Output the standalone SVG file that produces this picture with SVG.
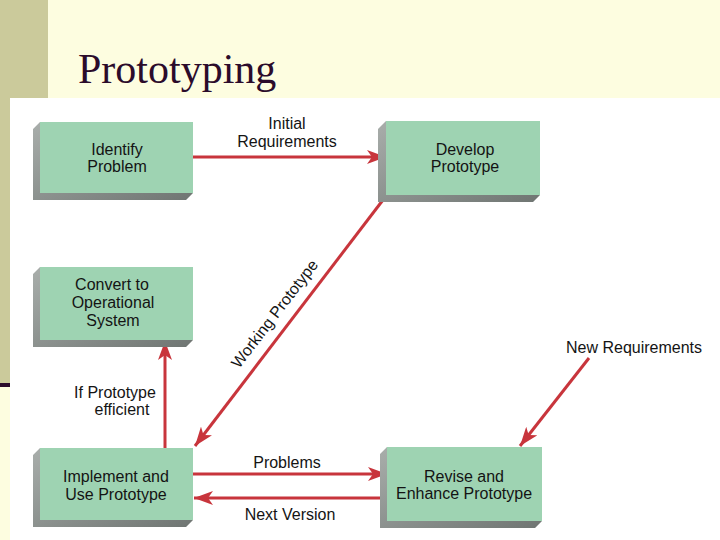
<svg xmlns="http://www.w3.org/2000/svg" width="720" height="540" viewBox="0 0 720 540">
<defs>
<linearGradient id="sh" x1="0" y1="0" x2="1" y2="1">
<stop offset="0" stop-color="#a9aeab"/>
<stop offset="1" stop-color="#6f7572"/>
</linearGradient>
<marker id="ah" markerUnits="userSpaceOnUse" markerWidth="20" markerHeight="14" viewBox="0 0 20 14" refX="19" refY="7" orient="auto">
<path d="M0,0 L19,7 L0,14 L5,7 z" fill="#c8353c"/>
</marker>
</defs>
<style>
.box{fill:#9ed3b2;}
.shadow{fill:url(#sh);}
.t{font-family:"Liberation Sans",Arial,sans-serif;font-size:16px;fill:#141414;text-anchor:middle;}
.c{stroke:#c8353c;stroke-width:3;fill:none;marker-end:url(#ah);}
</style>
<rect width="720" height="540" fill="#fdfde0"/>
<rect x="0" y="0" width="48" height="383" fill="#cbca9b"/>
<rect x="0" y="383" width="12" height="4" fill="#2b0b2b"/>
<text x="78" y="83" font-family="'Liberation Serif','Times New Roman',serif" font-size="42" fill="#2b0b2b">Prototyping</text>
<rect x="10" y="98" width="710" height="442" fill="#ffffff"/>

<g id="connectors">
<line class="c" x1="193" y1="157" x2="386" y2="157"/>
<line class="c" x1="386" y1="196" x2="195" y2="446"/>
<line class="c" x1="165" y1="448" x2="165" y2="341"/>
<line class="c" x1="193" y1="474" x2="387" y2="474"/>
<line class="c" x1="387" y1="498" x2="194" y2="498"/>
<line class="c" x1="589" y1="358" x2="520" y2="446"/>
<text class="t" x="287" y="129">Initial</text>
<text class="t" x="287" y="147">Requirements</text>
<g transform="translate(275,314) rotate(-52.6)"><text class="t" x="0" y="5">Working Prototype</text></g>
<text class="t" x="115" y="398">If Prototype</text>
<text class="t" x="122" y="415">efficient</text>
<text class="t" x="287" y="468">Problems</text>
<text class="t" x="290" y="520">Next Version</text>
<text class="t" x="634" y="353">New Requirements</text>
</g>

<g id="identify">
<polygon class="shadow" points="40,122 33,129 33,200 186,200 193,193 40,193"/>
<rect class="box" x="40" y="122" width="153" height="71"/>
<text class="t" x="117" y="155">Identify</text>
<text class="t" x="117" y="172">Problem</text>
</g>
<g id="develop">
<polygon class="shadow" points="386,121 378,129 378,202 533,202 540,195 386,195"/>
<rect class="box" x="386" y="121" width="154" height="74"/>
<text class="t" x="465" y="155">Develop</text>
<text class="t" x="465" y="172">Prototype</text>
</g>
<g id="convert">
<polygon class="shadow" points="40,267 33,274 33,347 186,347 193,340 40,340"/>
<rect class="box" x="40" y="267" width="153" height="73"/>
<text class="t" x="112" y="290">Convert to</text>
<text class="t" x="113" y="308">Operational</text>
<text class="t" x="113" y="326">System</text>
</g>
<g id="implement">
<polygon class="shadow" points="40,448 33,455 33,527 186,527 193,520 40,520"/>
<rect class="box" x="40" y="448" width="153" height="72"/>
<text class="t" x="116" y="482">Implement and</text>
<text class="t" x="116" y="500">Use Prototype</text>
</g>
<g id="revise">
<polygon class="shadow" points="387,447 380,454 380,528 535,528 542,521 387,521"/>
<rect class="box" x="387" y="447" width="155" height="74"/>
<text class="t" x="464" y="482">Revise and</text>
<text class="t" x="464" y="499">Enhance Prototype</text>
</g>
</svg>
